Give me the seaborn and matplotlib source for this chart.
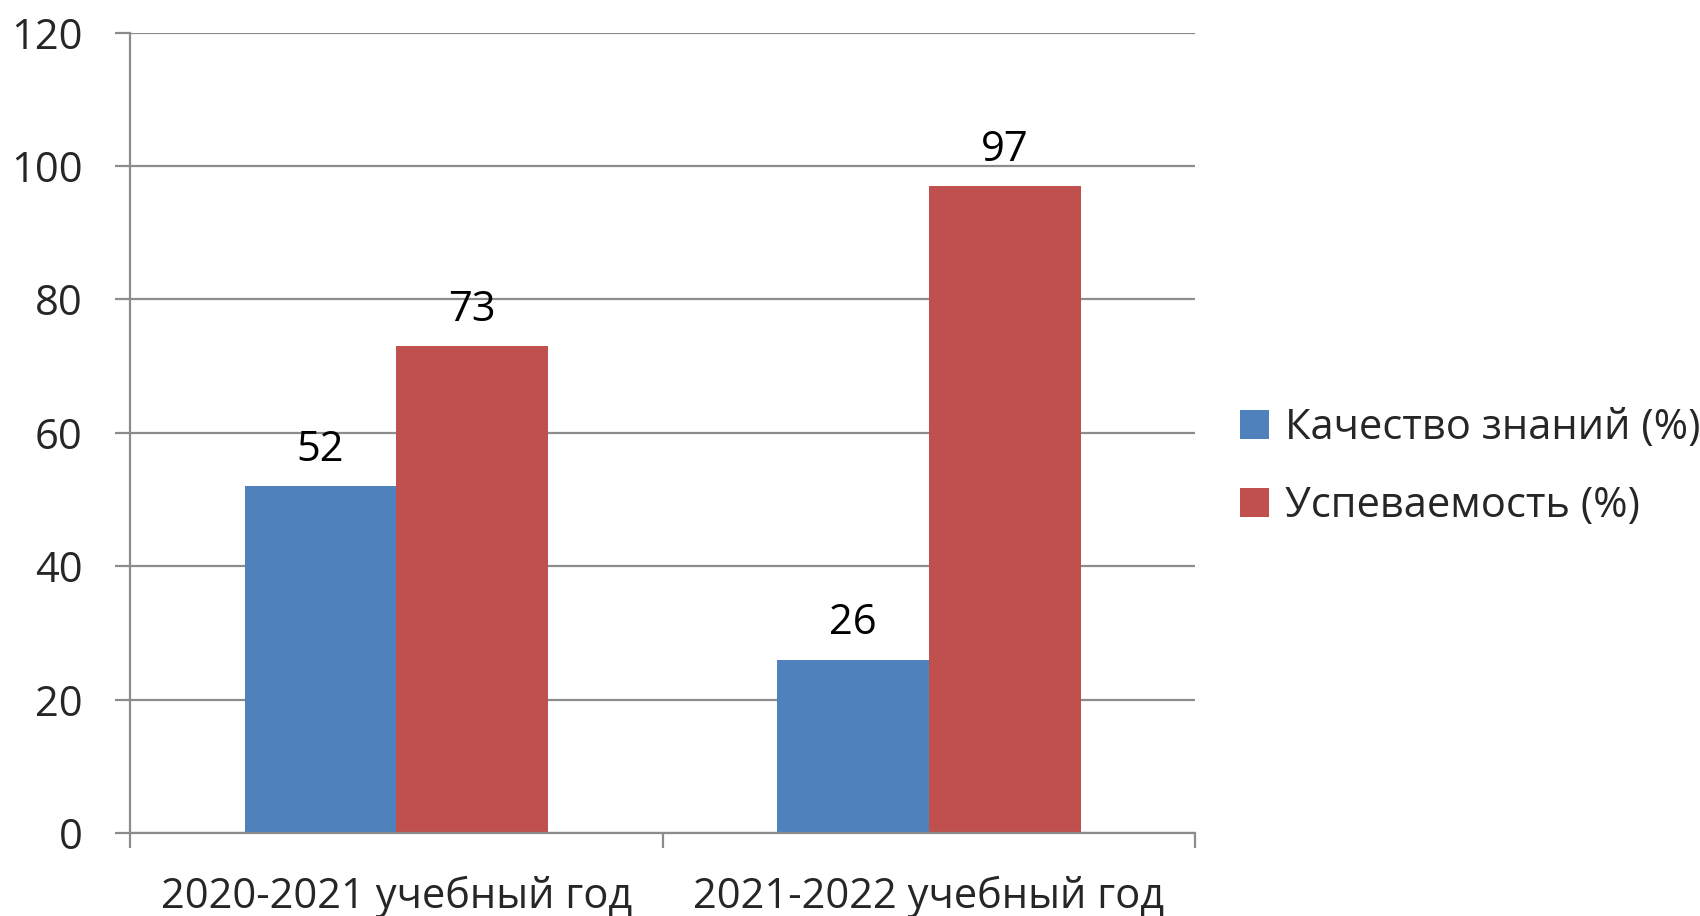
import matplotlib
matplotlib.use("Agg")
import matplotlib.pyplot as plt
import seaborn as sns
import pandas as pd
from matplotlib.patches import Patch

categories = ["2020-2021 учебный год", "2021-2022 учебный год"]
series_names = ["Качество знаний (%)", "Успеваемость (%)"]
quality = [52, 26]
progress = [73, 97]
colors = ["#4F81BD", "#C0504D"]
yticks = [0, 20, 40, 60, 80, 100, 120]

df = pd.DataFrame({
    "cat": categories * 2,
    "series": [series_names[0]] * 2 + [series_names[1]] * 2,
    "value": quality + progress,
})

sns.set_theme(style="white")
plt.rcParams['font.family'] = ['Open Sans', 'DejaVu Sans']

fig = plt.figure(figsize=(17, 9.16), dpi=100)
ax = fig.add_axes([0.0765, 0.0906, 0.703 - 0.0765, 0.9645 - 0.0906])

sns.barplot(data=df, x="cat", y="value", hue="series", palette=colors,
            width=0.57, ax=ax, saturation=1, legend=False, linewidth=0)

for cont in ax.containers:
    ax.bar_label(cont, fontsize=30, padding=11, color="black")

ax.set_xlim(-0.5, 1.5)
ax.set_ylim(0, 120)
ax.set_yticks(yticks)
ax.set_yticklabels([str(v) for v in yticks])
ax.yaxis.grid(True, color="#8c8c8c", linewidth=1.6)
ax.set_axisbelow(True)
ax.set_xlabel("")
ax.set_ylabel("")

ax.set_xticks([0, 1])
ax.set_xticklabels(categories)
ax.set_xticks([-0.5, 0.5, 1.5], minor=True)
ax.tick_params(axis="x", which="major", bottom=True, length=0, pad=31, labelsize=30)
ax.tick_params(axis="x", which="minor", bottom=True, length=11, width=1.6, color="#8c8c8c", direction="out")
ax.tick_params(axis="y", which="major", left=True, length=11, width=1.6, color="#8c8c8c", direction="out", pad=23, labelsize=30)

for s in ["top", "right"]:
    ax.spines[s].set_visible(False)
for s in ["left", "bottom"]:
    ax.spines[s].set_color("#8c8c8c")
    ax.spines[s].set_linewidth(1.6)

handles = [Patch(facecolor=c, edgecolor="none") for c in colors]
fig.legend(handles, series_names, loc="center left", bbox_to_anchor=(0.712, 0.49),
           frameon=False, fontsize=30, handlelength=0.7, handleheight=0.7,
           handletextpad=0.4, labelspacing=0.85, borderpad=0.2)

fig.savefig("out.png", dpi=100, facecolor="white")
